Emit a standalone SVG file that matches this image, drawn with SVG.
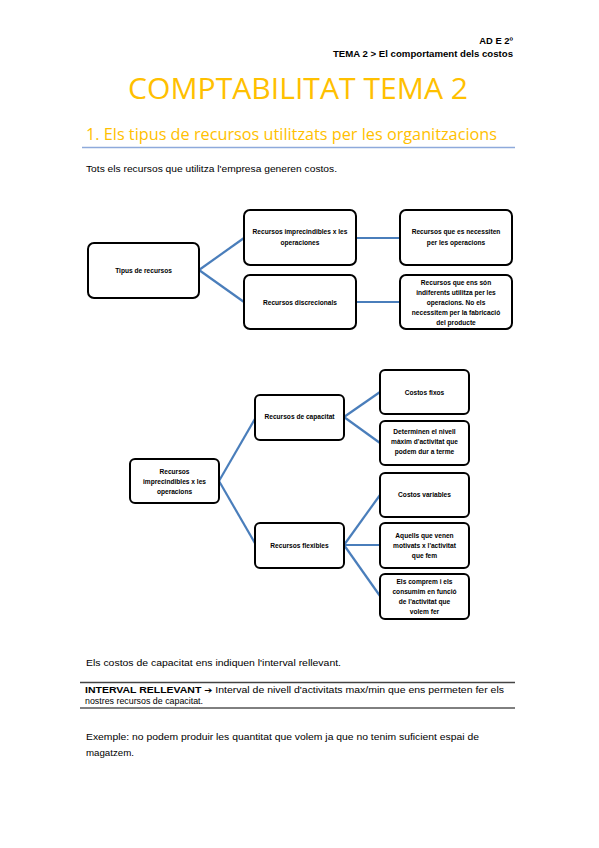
<svg xmlns="http://www.w3.org/2000/svg" width="599" height="848" viewBox="0 0 599 848">
<style>
.bg{fill:#fff}
.box{fill:#fff;stroke:#000;stroke-width:2}
.con{stroke:#4A7EBB;stroke-width:2.2;fill:none}
.bt{font-family:"Liberation Sans",Arial,sans-serif;font-size:6.6px;font-weight:bold;fill:#000;text-anchor:middle}
.body{font-family:"Liberation Sans",Arial,sans-serif;font-size:8.6px;fill:#000}
.hdr{font-family:"Liberation Sans",Arial,sans-serif;font-size:9.4px;font-weight:bold;fill:#000;text-anchor:end}
.title{font-family:"Open Sans","Liberation Sans",sans-serif;font-size:30px;fill:#FFC000;text-anchor:middle}
.sub{font-family:"Open Sans","Liberation Sans",sans-serif;font-size:16px;fill:#FFC000}
.rule{stroke:#000;stroke-width:1}
</style>
<rect class="bg" x="0" y="0" width="599" height="848"/>
<g id="header">
<text class="hdr" x="513" y="44">AD E 2º</text>
<text class="hdr" x="513" y="57" textLength="180" lengthAdjust="spacingAndGlyphs">TEMA 2 &gt; El comportament dels costos</text>
</g>
<g id="titles">
<text class="title" x="298" y="99" textLength="340" lengthAdjust="spacingAndGlyphs">COMPTABILITAT TEMA 2</text>
<text class="sub" x="86" y="140" textLength="411" lengthAdjust="spacingAndGlyphs">1. Els tipus de recursos utilitzats per les organitzacions</text>
<line x1="82" y1="147.5" x2="515" y2="147.5" stroke="#8EAADB" stroke-width="1.3"/>
<text class="body" x="86" y="172" textLength="251" lengthAdjust="spacingAndGlyphs">Tots els recursos que utilitza l'empresa generen costos.</text>
</g>
<g id="connectors">
<line class="con" x1="199" y1="270" x2="244" y2="238"/>
<line class="con" x1="199" y1="270" x2="244" y2="302"/>
<line class="con" x1="356" y1="238" x2="400" y2="238"/>
<line class="con" x1="356" y1="302" x2="400" y2="302"/>
<line class="con" x1="219" y1="481" x2="256" y2="417"/>
<line class="con" x1="219" y1="481" x2="256" y2="545"/>
<line class="con" x1="344" y1="417" x2="380" y2="392"/>
<line class="con" x1="344" y1="417" x2="380" y2="443"/>
<line class="con" x1="344" y1="545" x2="380" y2="495"/>
<line class="con" x1="344" y1="545" x2="380" y2="545"/>
<line class="con" x1="344" y1="545" x2="380" y2="596"/>
</g>
<g id="n_tipus">
<rect class="box" x="88" y="243" width="111" height="55" rx="6"/>
<text class="bt" x="143.5" y="273">Tipus de recursos</text>
</g>
<g id="n_imprec1">
<rect class="box" x="244" y="210" width="112" height="55" rx="6"/>
<text class="bt" x="300" y="234">Recursos imprecindibles x les</text>
<text class="bt" x="300" y="245">operaciones</text>
</g>
<g id="n_discr">
<rect class="box" x="244" y="275" width="112" height="54" rx="6"/>
<text class="bt" x="300" y="305">Recursos discrecionals</text>
</g>
<g id="n_necess">
<rect class="box" x="400" y="210" width="112" height="55" rx="6"/>
<text class="bt" x="456" y="234">Recursos que es necessiten</text>
<text class="bt" x="456" y="245">per les operacions</text>
</g>
<g id="n_indif">
<rect class="box" x="400" y="275" width="112" height="54" rx="6"/>
<text class="bt" x="456" y="285">Recursos que ens són</text>
<text class="bt" x="456" y="295">indiferents utilitza per les</text>
<text class="bt" x="456" y="305">operacions. No els</text>
<text class="bt" x="456" y="315">necessitem per la fabricació</text>
<text class="bt" x="456" y="325">del producte</text>
</g>
<g id="n_imprec2">
<rect class="box" x="130" y="459" width="89" height="44" rx="5"/>
<text class="bt" x="174.5" y="474">Recursos</text>
<text class="bt" x="174.5" y="484">imprecindibles x les</text>
<text class="bt" x="174.5" y="494">operacions</text>
</g>
<g id="n_capac">
<rect class="box" x="255" y="395" width="89" height="45" rx="5"/>
<text class="bt" x="299.5" y="419">Recursos de capacitat</text>
</g>
<g id="n_flex">
<rect class="box" x="255" y="523" width="89" height="45" rx="5"/>
<text class="bt" x="299.5" y="548">Recursos flexibles</text>
</g>
<g id="n_fixos">
<rect class="box" x="380" y="370" width="89" height="44" rx="5"/>
<text class="bt" x="424.5" y="395">Costos fixos</text>
</g>
<g id="n_determ">
<rect class="box" x="380" y="421" width="89" height="44" rx="5"/>
<text class="bt" x="424.5" y="434">Determinen el nivell</text>
<text class="bt" x="424.5" y="444">màxim d'activitat que</text>
<text class="bt" x="424.5" y="454">podem dur a terme</text>
</g>
<g id="n_variab">
<rect class="box" x="380" y="473" width="89" height="44" rx="5"/>
<text class="bt" x="424.5" y="497">Costos variables</text>
</g>
<g id="n_aquells">
<rect class="box" x="380" y="523" width="89" height="45" rx="5"/>
<text class="bt" x="424.5" y="538">Aquells que venen</text>
<text class="bt" x="424.5" y="548">motivats x l'activitat</text>
<text class="bt" x="424.5" y="558">que fem</text>
</g>
<g id="n_compr">
<rect class="box" x="380" y="574" width="89" height="45" rx="5"/>
<text class="bt" x="424.5" y="584">Els comprem i els</text>
<text class="bt" x="424.5" y="594">consumim en funció</text>
<text class="bt" x="424.5" y="604">de l'activitat que</text>
<text class="bt" x="424.5" y="614">volem fer</text>
</g>
<g id="bottom">
<text class="body" x="86" y="666" textLength="255" lengthAdjust="spacingAndGlyphs">Els costos de capacitat ens indiquen l'interval rellevant.</text>
<line x1="80" y1="682.5" x2="515" y2="682.5" stroke="#444" stroke-width="1.5"/>
<text class="body" x="85" y="693" textLength="419" lengthAdjust="spacingAndGlyphs"><tspan font-weight="bold">INTERVAL RELLEVANT </tspan><tspan font-family="DejaVu Sans" font-weight="bold" font-size="8">➔</tspan><tspan> Interval de nivell d'activitats max/min que ens permeten fer els</tspan></text>
<text class="body" x="85" y="704" font-size="8.2" textLength="118" lengthAdjust="spacingAndGlyphs">nostres recursos de capacitat.</text>
<line class="rule" x1="80" y1="708" x2="515" y2="708"/>
<text class="body" x="86" y="740" textLength="393" lengthAdjust="spacingAndGlyphs">Exemple: no podem produir les quantitat que volem ja que no tenim suficient espai de</text>
<text class="body" x="86" y="756" textLength="48" lengthAdjust="spacingAndGlyphs">magatzem.</text>
</g>
</svg>
